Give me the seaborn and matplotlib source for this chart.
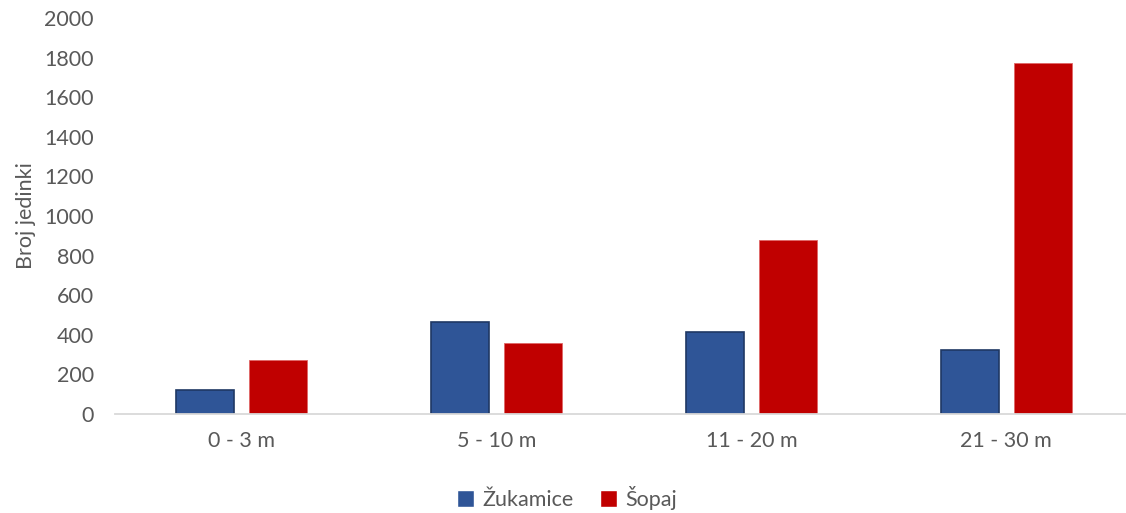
import matplotlib
matplotlib.use("Agg")
import matplotlib.pyplot as plt
import seaborn as sns
import pandas as pd

categories = ["0 - 3 m", "5 - 10 m", "11 - 20 m", "21 - 30 m"]
zukamice = [120, 465, 415, 325]
sopaj = [275, 360, 880, 1775]
series_names = ["Žukamice", "Šopaj"]
y_ticks = [0, 200, 400, 600, 800, 1000, 1200, 1400, 1600, 1800, 2000]

df = pd.DataFrame({
    "Dubina": categories * 2,
    "Broj": zukamice + sopaj,
    "Lokalitet": [series_names[0]] * 4 + [series_names[1]] * 4,
})

sns.set_theme(style="white")
plt.rcParams["font.family"] = ["Lato", "DejaVu Sans"]

text_color = "#595959"
palette = {series_names[0]: "#2F5597", series_names[1]: "#C00000"}

fig = plt.figure(figsize=(11.26, 5.13), dpi=100)
ax = fig.add_axes([114.5 / 1126, 0.193, 1 - 114.5 / 1126, 0.772])

sns.barplot(data=df, x="Dubina", y="Broj", hue="Lokalitet", order=categories,
            hue_order=series_names, palette=palette, width=0.573, gap=0.205,
            saturation=1, ax=ax, legend=True)

# edge styling per series
for container, edge in zip(ax.containers, ["#1F3864", "#E06666"]):
    for bar in container:
        bar.set_edgecolor(edge)
        bar.set_linewidth(1.2 if edge == "#1F3864" else 0.6)

ax.set_xlim(-0.5, 3.47)
ax.set_ylim(0, 2000)
ax.set_yticks(y_ticks)
ax.set_yticklabels([str(t) for t in y_ticks])
ax.tick_params(axis="both", length=0, labelsize=15.5, labelcolor=text_color)
ax.tick_params(axis="y", pad=15)
ax.tick_params(axis="x", pad=12)
ax.set_xlabel("")
ax.set_ylabel("Broj jedinki", fontsize=15.5, color=text_color, labelpad=6)

for side in ["top", "right", "left"]:
    ax.spines[side].set_visible(False)
ax.spines["bottom"].set_color("#D9D9D9")
ax.spines["bottom"].set_linewidth(1.3)

handles, labels = ax.get_legend_handles_labels()
ax.get_legend().remove()
leg = fig.legend(handles, labels, loc="center", bbox_to_anchor=(567 / 1126, 1 - 498 / 513),
                 ncol=2, frameon=False, fontsize=15.5, handlelength=0.8, handleheight=0.8,
                 handletextpad=0.4, columnspacing=1.2)
for t in leg.get_texts():
    t.set_color(text_color)

fig.savefig("out.png", dpi=100)
